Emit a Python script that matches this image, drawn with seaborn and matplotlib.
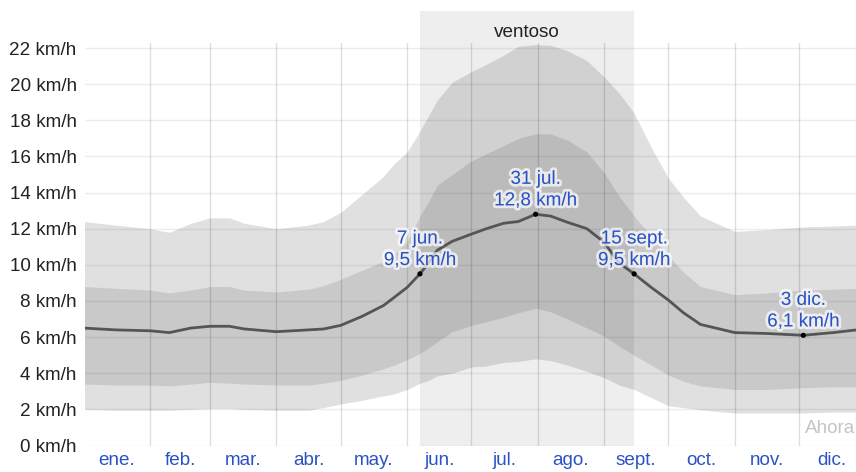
import numpy as np
import pandas as pd
import matplotlib
matplotlib.use("Agg")
import matplotlib.pyplot as plt
import matplotlib.patheffects as pe
import seaborn as sns

# day of year (0 = 1 ene.) and wind speed percentiles, km/h
days = [0, 15, 31, 40, 50, 59, 68, 75, 90, 105, 112, 120, 130, 140, 145, 151, 157, 161, 165, 172,
        181, 188, 196, 203, 211, 218, 226, 235, 243, 250, 257, 265, 273, 280, 288, 304, 319, 336, 350, 361]
mean = [6.5, 6.4, 6.35, 6.25, 6.5, 6.6, 6.6, 6.45, 6.3, 6.4, 6.45, 6.65, 7.15, 7.75, 8.2, 8.75, 9.5, 10.1, 10.8, 11.3,
        11.7, 12.0, 12.3, 12.4, 12.8, 12.7, 12.35, 12.0, 11.25, 10.1, 9.5, 8.75, 8.05, 7.35, 6.7, 6.25, 6.2, 6.1, 6.25, 6.4]
p90 = [12.4, 12.2, 12.0, 11.8, 12.3, 12.6, 12.6, 12.3, 12.0, 12.2, 12.4, 12.9, 13.9, 14.9, 15.6, 16.25, 17.4, 18.25, 19.1, 20.1,
       20.7, 21.1, 21.6, 22.1, 22.2, 22.15, 21.85, 21.3, 20.4, 19.5, 18.4, 16.5, 14.8, 13.75, 12.7, 11.85, 11.95, 12.1, 12.15, 12.2]
p75 = [8.8, 8.7, 8.6, 8.45, 8.6, 8.8, 8.8, 8.6, 8.5, 8.65, 8.85, 9.2, 9.7, 10.2, 10.6, 11.3, 12.7, 13.5, 14.4, 15.0,
       15.75, 16.15, 16.6, 17.0, 17.25, 17.25, 16.9, 16.25, 15.1, 13.8, 12.7, 11.6, 10.5, 9.6, 8.8, 8.35, 8.45, 8.6, 8.65, 8.7]
p25 = [3.4, 3.35, 3.35, 3.3, 3.4, 3.5, 3.45, 3.4, 3.35, 3.35, 3.45, 3.6, 3.9, 4.25, 4.45, 4.75, 5.1, 5.4, 5.75, 6.3,
       6.65, 6.85, 7.1, 7.35, 7.6, 7.4, 7.0, 6.5, 6.05, 5.5, 5.0, 4.45, 3.9, 3.55, 3.3, 3.1, 3.1, 3.2, 3.25, 3.25]
p10 = [2.0, 1.95, 1.95, 1.95, 2.0, 2.05, 2.05, 2.0, 1.95, 1.95, 2.1, 2.3, 2.5, 2.75, 2.85, 3.1, 3.45, 3.6, 3.85, 4.0,
       4.35, 4.4, 4.6, 4.65, 4.8, 4.7, 4.45, 4.1, 3.75, 3.35, 3.1, 2.65, 2.2, 2.1, 1.97, 1.8, 1.8, 1.8, 1.85, 1.85]

ann_days = [157, 211, 257, 336]
ann_vals = [9.5, 12.8, 9.5, 6.1]
ann_dates = ["7 jun.", "31 jul.", "15 sept.", "3 dic."]

windy_start, windy_end = 157, 257
windy_label = "ventoso"

month_starts = [31, 59, 90, 120, 151, 181, 212, 243, 273, 304, 334]
month_mid = [15.5, 45, 74.5, 105, 135.5, 166, 196.5, 227.5, 258, 288.5, 319, 349.5]
month_names = ["ene.", "feb.", "mar.", "abr.", "may.", "jun.", "jul.", "ago.",
               "sept.", "oct.", "nov.", "dic."]
y_ticks = list(range(0, 23, 2))

df = pd.DataFrame({"day": days, "mean": mean, "p10": p10, "p25": p25, "p75": p75, "p90": p90})

sns.set_theme(style="white")
plt.rcParams["font.family"] = ["Liberation Sans", "DejaVu Sans"]

blue = "#2b52c4"
fs = 13.6

fig = plt.figure(figsize=(8.56, 4.72), dpi=100)
ax = fig.add_axes([85 / 856, 26.5 / 472, 771 / 856, 402.5 / 472])

# windy season background, reaching above the plot
ax.axvspan(windy_start, windy_end, ymin=0, ymax=(445.5 - 11) / 402.5,
           color="#eeeeee", zorder=0, clip_on=False, lw=0)
ax.text((windy_start + windy_end) / 2, 22.85, windy_label, ha="center", va="center",
        fontsize=fs, color="#222222")

ax.fill_between(df["day"], df["p10"], df["p90"], color="black", alpha=0.12, lw=0, zorder=1)
ax.fill_between(df["day"], df["p25"], df["p75"], color="black", alpha=0.1, lw=0, zorder=1)

sns.lineplot(data=df, x="day", y="mean", ax=ax, color="#555555", lw=2, zorder=3)
sns.scatterplot(x=ann_days, y=ann_vals, ax=ax, color="black", s=14, zorder=4, edgecolor="none")

for d, v, lab in zip(ann_days, ann_vals, ann_dates):
    txt = f"{lab}\n{str(v).replace('.', ',')} km/h"
    ax.annotate(txt, xy=(d, v), xytext=(0, 3.5), textcoords="offset points",
                ha="center", va="bottom", fontsize=fs, color=blue, linespacing=1.35,
                path_effects=[pe.withStroke(linewidth=4, foreground="white", alpha=0.7)],
                zorder=5)

ax.text(360.3, 0.92, "Ahora", ha="right", va="center", fontsize=fs, color="#c4c4c4")

ax.set_xlim(0.6, 360.6)
ax.set_ylim(0, 22.28)

# grid lines drawn over the bands
for m in month_starts:
    ax.axvline(m, color="black", alpha=0.13, lw=1, zorder=2)
for t in y_ticks:
    ax.axhline(t, color="black", alpha=0.07, lw=1, zorder=2)

ax.set_xticks(month_starts)
ax.set_xticklabels([])
ax.tick_params(axis="x", which="major", length=5, width=1, color="#d8d8d8", direction="out")
ax.set_xticks(month_mid, minor=True)
ax.set_xticklabels(month_names, minor=True, fontsize=fs, color=blue)
ax.tick_params(axis="x", which="minor", length=0, pad=5)

ax.set_yticks(y_ticks)
ax.set_yticklabels([f"{t} km/h" for t in y_ticks], fontsize=fs, color="#222222")
ax.tick_params(axis="y", length=4, width=1, color="#e6e6e6", direction="out", pad=2)

ax.set_xlabel("")
ax.set_ylabel("")
for s in ax.spines.values():
    s.set_visible(False)

fig.savefig("out.png", dpi=100)
